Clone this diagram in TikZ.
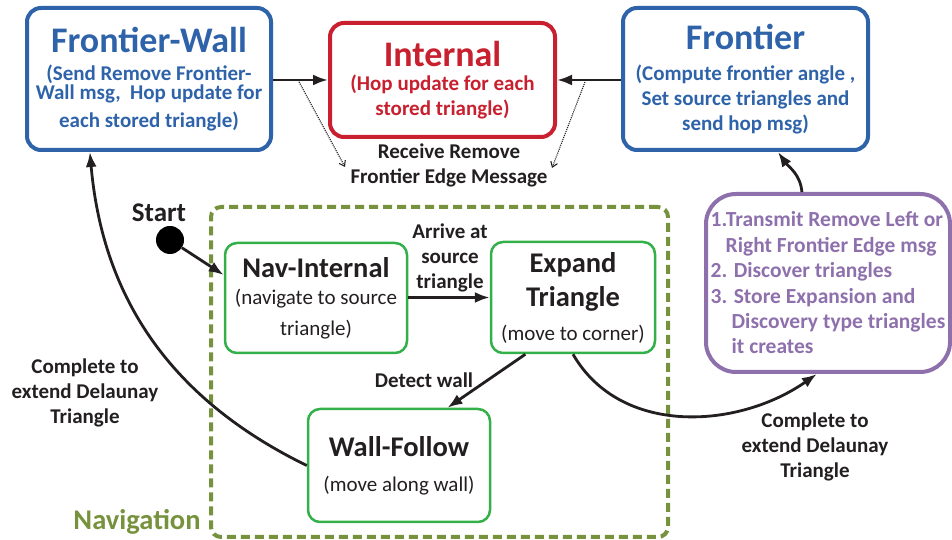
\documentclass[tikz,border=0pt]{standalone}
\usepackage{fontspec}
\setmainfont{Carlito}
\usepackage{tikz}
\usetikzlibrary{arrows.meta}
\usetikzlibrary{positioning}

\definecolor{fwblue}{RGB}{46,99,170}
\definecolor{intred}{RGB}{200,32,46}
\definecolor{expurple}{RGB}{142,112,172}
\definecolor{navgreen}{RGB}{52,176,74}
\definecolor{navolive}{RGB}{118,146,60}
\definecolor{inkblack}{RGB}{35,31,32}

\newcommand{\bighead}{\fontsize{36}{40}\selectfont\bfseries}
\newcommand{\midhead}{\fontsize{28.5}{32}\selectfont\bfseries}
\newcommand{\smalltext}{\fontsize{21}{25}\selectfont}

\begin{document}
\begin{tikzpicture}[
    x=1pt, y=1pt,
    statebox/.style={draw, rounded corners=14pt, line width=4pt, align=center, inner sep=0pt, font=\smalltext\bfseries},
    navstate/.style={draw=navgreen, rounded corners=12pt, line width=2.5pt, align=center, inner sep=0pt, text=inkblack, font=\smalltext},
    flow/.style={line width=2.8pt, inkblack, -{Latex[length=15pt,width=11pt]}},
    msgflow/.style={densely dotted, line width=1.1pt, inkblack, -{Straight Barb[length=5pt,width=7pt]}},
    lbl/.style={align=center, text=inkblack, inner sep=0pt, font=\smalltext\bfseries}
]
    \useasboundingbox (0,0) rectangle (952,540);

    % top row of states
    \node[statebox, draw=fwblue, text=fwblue, minimum width=244pt, minimum height=142pt] (fwall) at (149,461)
        {{\bighead Frontier-Wall}\\[3pt] (Send Remove Frontier-\\[-6pt] Wall msg,\ \ Hop update for\\[3pt] each stored triangle)};
    \node[statebox, draw=intred, text=intred, minimum width=225pt, minimum height=114pt] (intl) at (442.5,460)
        {{\bighead Internal}\\[-1pt] (Hop update for each\\ stored triangle)};
    \node[statebox, draw=fwblue, text=fwblue, minimum width=245pt, minimum height=142pt] (front) at (745.5,461)
        {{\bighead Frontier}\\[6pt] (Compute frontier angle ,\\ Set source triangles and\\ send hop msg)};

    \node[statebox, draw=expurple, text=expurple, rounded corners=30pt, align=left, minimum width=244pt, minimum height=178pt, font=\fontsize{21.5}{25.4}\selectfont\bfseries] (trans) at (828,257)
        {1.Transmit Remove Left or\\ \hspace*{15pt}Right Frontier Edge msg\\ 2. Discover triangles\\ 3. Store Expansion and\\ \hspace*{21pt}Discovery type triangles\\ \hspace*{21pt}it creates};

    % navigation group
    \node[draw=navolive, line width=4pt, dash pattern=on 9pt off 5pt, rounded corners=10pt, minimum width=457pt, minimum height=330pt] (nav) at (439.5,168) {};
    \node[text=navolive, font=\midhead, inner sep=0pt] (navlbl) at (137,18) {Navigation};

    \node[navstate, minimum width=182pt, minimum height=110pt] (navint) at (316,242)
        {{\midhead Nav-Internal}\\[2pt] (navigate to source\\[6pt] triangle)};
    \node[navstate, minimum width=164pt, minimum height=111pt] (expand) at (573,242.5)
        {{\midhead Expand}\\[9pt] {\midhead Triangle}\\[9pt] (move to corner)};
    \node[navstate, minimum width=182pt, minimum height=113pt] (wallf) at (399,74.5)
        {{\midhead Wall-Follow}\\[10pt] (move along wall)};

    \node[circle, fill=black, minimum size=28pt, inner sep=0pt] (start) at (170,300) {};
    \node[lbl, font=\fontsize{27}{30}\selectfont\bfseries] (startlbl) at (159,327) {Start};

    % message arrows
    \draw[flow] (fwall.east |- intl.west) -- (intl.west);
    \draw[flow] (front.west |- intl.east) -- (intl.east);
    \coordinate (fwdot) at (298,460);
    \coordinate (frdot) at (585,458);
    \coordinate (rcvl) at (345,373);
    \coordinate (rcvr) at (552,372);
    \draw[msgflow] (fwdot) -- (rcvl);
    \draw[msgflow] (frdot) -- (rcvr);
    \node[lbl] (rcvlbl) at (449,375) {Receive Remove\\ Frontier Edge Message};

    % navigation transitions
    \draw[flow] (start) -- (navint.166);
    \draw[flow] (navint.east |- expand.west) -- (expand.west);
    \node[lbl] (arrlbl) at (450,282) {Arrive at\\ source\\ triangle};
    \draw[flow] (expand.230) -- (wallf.50);
    \node[lbl] (detlbl) at (424,160) {Detect wall};

    % leaving navigation
    \draw[flow] (wallf.west) to[out=154, in=-85] (fwall.231);
    \node[lbl] (cmpl) at (85,147) {Complete to\\ extend Delaunay\\ Triangle};
    \draw[flow] (expand.south) to[out=-60, in=215] (trans.263);
    \node[lbl] (cmpr) at (815,93) {Complete to\\ extend Delaunay\\ Triangle};
    \draw[flow] (trans.106) to[out=95, in=-55] (front.294);
\end{tikzpicture}
\end{document}
